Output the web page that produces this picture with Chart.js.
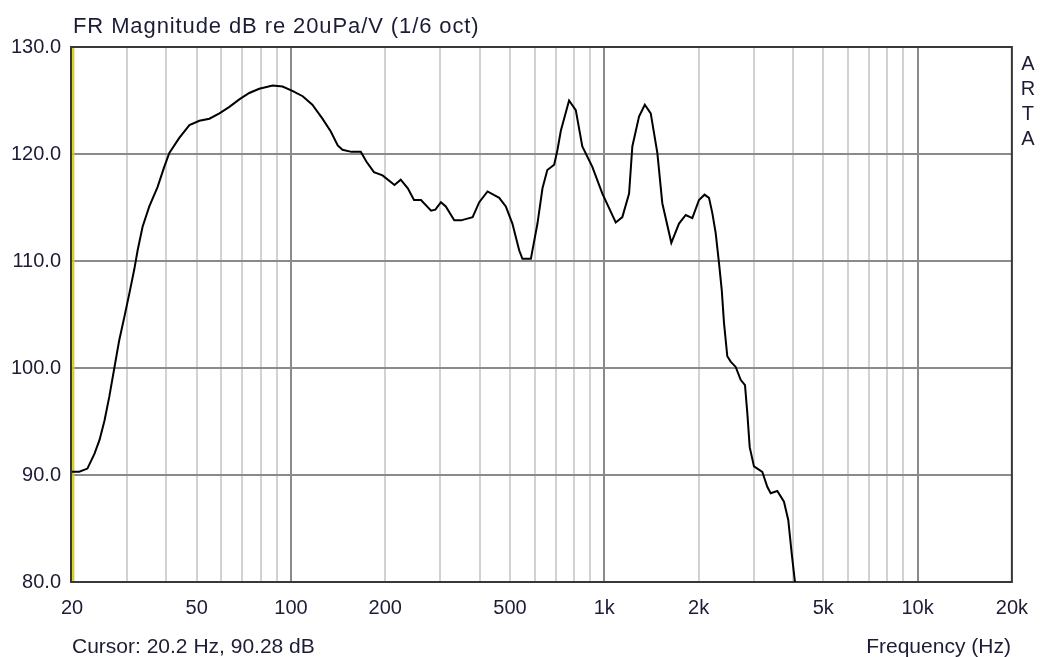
<!DOCTYPE html>
<html>
<head>
<meta charset="utf-8">
<title>FR Magnitude</title>
<script src="https://cdn.jsdelivr.net/npm/chart.js@4/dist/chart.umd.min.js"></script>
<style>
  html, body { margin: 0; padding: 0; background: #ffffff; }
  #wrap { width: 1042px; height: 657px; }
</style>
</head>
<body>
<div id="wrap"><canvas id="fr" width="1042" height="657"></canvas></div>
<script>
// Frequency response, 1/6 octave smoothed
const freqHz = [20, 21.1, 22.4, 23.6, 24.5, 25.4, 26.3, 27.3, 28.3, 29.4,
  30.5, 31.6, 32.4, 33.6, 35.3, 37.5, 39.4, 40.9, 44.0, 47.4,
  51, 54.9, 59.1, 63.6, 68.4, 73.6, 79.2, 87.4, 94, 101,
  109, 117, 126, 134, 141, 146, 156, 167, 174, 184,
  196, 214, 224, 236, 247, 260, 280, 289, 301, 312,
  332, 349, 380, 399, 424, 462, 485, 509, 535, 548,
  583, 612, 635, 658, 692, 709, 727, 772, 811, 851,
  916, 986, 1088, 1142, 1200, 1229, 1291, 1347, 1407, 1477,
  1532, 1637, 1732, 1820, 1910, 2006, 2089, 2159, 2212, 2268,
  2324, 2371, 2411, 2470, 2532, 2627, 2725, 2813, 2861, 2912,
  3005, 3194, 3314, 3398, 3567, 3746, 3866, 3964, 4061, 4120];

const magDb = [90.3, 90.3, 90.6, 92.0, 93.3, 95.1, 97.3, 100.0, 102.6, 104.8,
  107.0, 109.2, 111.0, 113.2, 115.1, 116.9, 118.8, 120.1, 121.5, 122.7,
  123.1, 123.3, 123.8, 124.4, 125.1, 125.7, 126.1, 126.4, 126.3, 125.9,
  125.4, 124.6, 123.3, 122.1, 120.8, 120.4, 120.2, 120.2, 119.3, 118.3,
  118.0, 117.1, 117.6, 116.8, 115.7, 115.7, 114.7, 114.8, 115.5, 115.1,
  113.8, 113.8, 114.1, 115.5, 116.5, 115.9, 115.1, 113.5, 111.0, 110.2,
  110.2, 113.5, 116.8, 118.5, 119.0, 120.4, 122.2, 125.0, 124.1, 120.7,
  118.8, 116.3, 113.6, 114.1, 116.3, 120.7, 123.5, 124.6, 123.8, 120.1,
  115.4, 111.7, 113.5, 114.3, 114.0, 115.7, 116.2, 115.9, 114.5, 112.6,
  109.8, 107.3, 104.2, 101.1, 100.6, 100.1, 98.9, 98.4, 95.8, 92.6,
  90.8, 90.3, 88.9, 88.3, 88.5, 87.5, 85.8, 82.7, 80.0, 79.0];

// Axis ticks
const labelHz = [20, 50, 100, 200, 500, 1000, 2000, 5000, 10000, 20000];
const labelText = ['20', '50', '100', '200', '500', '1k', '2k', '5k', '10k', '20k'];
const decadeHz = [100, 1000, 10000];
const gridHz = [20, 30, 40, 50, 60, 70, 80, 90, 100,
  200, 300, 400, 500, 600, 700, 800, 900, 1000,
  2000, 3000, 4000, 5000, 6000, 7000, 8000, 9000, 10000, 20000];
const dbMin = 80, dbMax = 130, dbStep = 10;

// Cursor readout
const cursorHz = 20.2;
const cursorDb = 90.28;

const titleText = 'FR Magnitude dB re 20uPa/V (1/6 oct)';
const xAxisText = 'Frequency (Hz)';
const brandText = ['A', 'R', 'T', 'A'];

const FONT = '"Liberation Sans", Arial, sans-serif';
const INK = '#1c1c36';

const framePlugin = {
  id: 'frame',
  beforeDatasetsDraw(chart) {
    const { ctx, chartArea: a, scales } = chart;
    ctx.save();
    // cursor marker
    const cx = scales.x.getPixelForValue(cursorHz);
    ctx.strokeStyle = '#d8d000';
    ctx.lineWidth = 2;
    ctx.beginPath();
    ctx.moveTo(cx, a.top);
    ctx.lineTo(cx, a.bottom);
    ctx.stroke();
    // plot frame
    ctx.strokeStyle = '#383838';
    ctx.lineWidth = 2;
    ctx.strokeRect(a.left - 1, a.top, a.right - a.left + 1, a.bottom - a.top);
    ctx.restore();
  },
  afterDraw(chart) {
    const { ctx, chartArea: a } = chart;
    ctx.save();
    ctx.fillStyle = INK;
    ctx.font = '22px ' + FONT;
    ctx.textBaseline = 'alphabetic';
    ctx.textAlign = 'left';
    if ('letterSpacing' in ctx) ctx.letterSpacing = '0.9px';
    ctx.fillText(titleText, a.left + 1, 33);
    if ('letterSpacing' in ctx) ctx.letterSpacing = '0px';

    ctx.font = '21px ' + FONT;
    ctx.fillText('Cursor: ' + cursorHz.toFixed(1) + ' Hz, ' + cursorDb.toFixed(2) + ' dB', a.left, 653);
    ctx.textAlign = 'right';
    ctx.fillText(xAxisText, a.right - 1, 653);

    ctx.font = '20px ' + FONT;
    ctx.textAlign = 'center';
    brandText.forEach((ch, i) => ctx.fillText(ch, a.right + 16, 70 + i * 25));
    ctx.restore();
  }
};

new Chart(document.getElementById('fr'), {
  type: 'line',
  data: {
    datasets: [{
      data: freqHz.map((f, i) => ({ x: f, y: magDb[i] })),
      borderColor: '#000000',
      borderWidth: 2,
      pointRadius: 0,
      tension: 0,
      fill: false
    }]
  },
  options: {
    responsive: false,
    animation: false,
    devicePixelRatio: 1,
    layout: { padding: { top: 47, right: 30, left: 0, bottom: 0 } },
    plugins: {
      legend: { display: false },
      tooltip: { enabled: false },
      title: { display: false }
    },
    scales: {
      x: {
        type: 'logarithmic',
        min: 20,
        max: 20000,
        afterBuildTicks: (s) => { s.ticks = gridHz.map(v => ({ value: v })); },
        afterFit: (s) => { s.height = 75; },
        border: { display: false },
        grid: {
          drawTicks: false,
          lineWidth: 2,
          color: (c) => decadeHz.includes(c.tick && c.tick.value) ? '#8a8a8a' : '#d2d2d2'
        },
        ticks: {
          autoSkip: false,
          maxRotation: 0,
          padding: 14,
          color: INK,
          font: { family: FONT, size: 20 },
          callback: (v) => {
            const k = labelHz.indexOf(v);
            return k >= 0 ? labelText[k] : '';
          }
        }
      },
      y: {
        min: dbMin,
        max: dbMax,
        afterFit: (s) => { s.width = 72; },
        border: { display: false },
        grid: { drawTicks: false, lineWidth: 2, color: '#8a8a8a' },
        ticks: {
          stepSize: dbStep,
          padding: 11,
          color: INK,
          font: { family: FONT, size: 20 },
          callback: (v) => Number(v).toFixed(1)
        }
      }
    }
  },
  plugins: [framePlugin]
});
</script>
</body>
</html>
